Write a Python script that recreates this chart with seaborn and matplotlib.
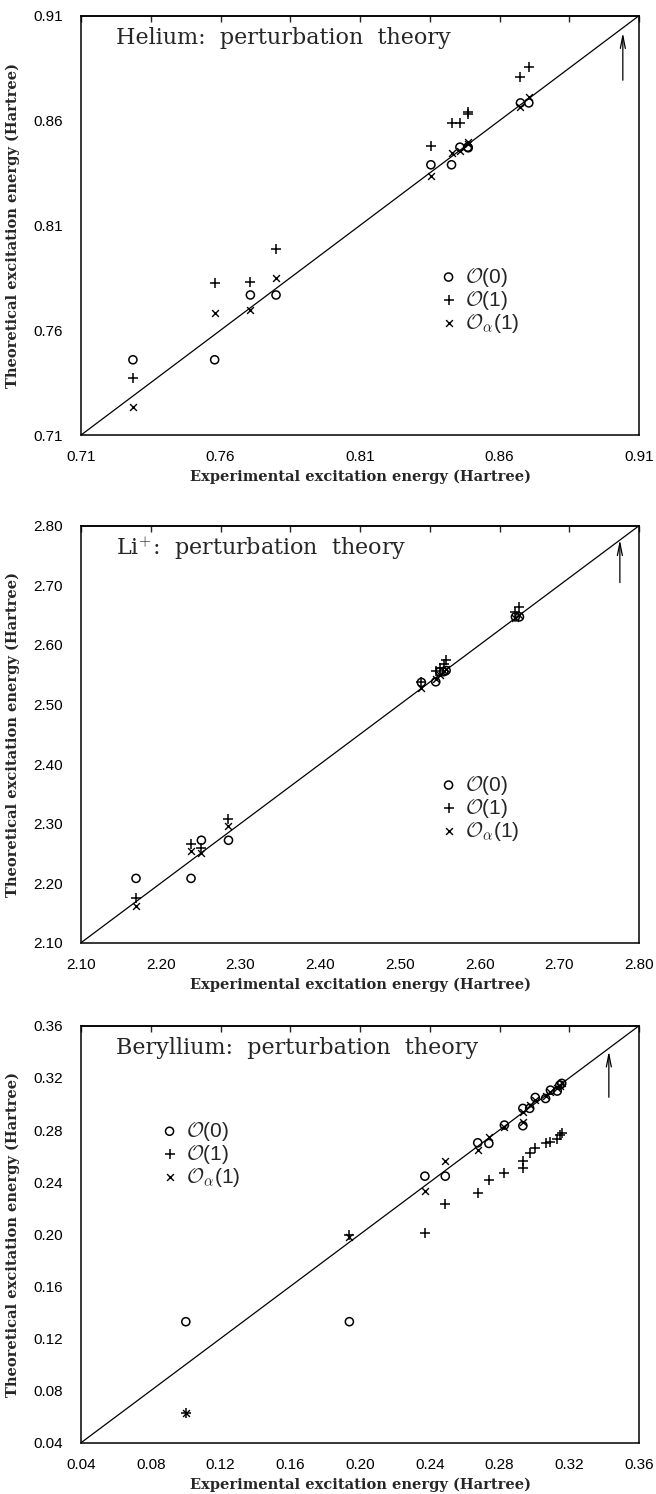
import matplotlib
matplotlib.use("Agg")
import matplotlib.pyplot as plt
import seaborn as sns

# Helium: experimental vs theoretical excitation energies (Hartree)
he_exp = [0.7286, 0.7579, 0.7707, 0.7799, 0.8354, 0.8428, 0.8458, 0.8486, 0.8488, 0.8675, 0.8705]
he_o0 = [0.7459, 0.7459, 0.7768, 0.7768, 0.8389, 0.8389, 0.8473, 0.8473, 0.8470, 0.8684, 0.8684]
he_o1 = [0.7373, 0.7825, 0.7830, 0.7986, 0.8479, 0.8590, 0.8590, 0.8629, 0.8641, 0.8808, 0.8854]
he_oa1 = [0.7232, 0.7684, 0.7695, 0.7848, 0.8335, 0.8446, 0.8454, 0.8497, 0.8486, 0.8663, 0.8711]
he_ticks = [0.71, 0.76, 0.81, 0.86, 0.91]
he_top = [0.71, 0.735, 0.76, 0.785, 0.81, 0.835, 0.86, 0.885, 0.91]

# Li+
li_exp = [2.169, 2.238, 2.251, 2.285, 2.527, 2.545, 2.550, 2.555, 2.558, 2.645, 2.650]
li_o0 = [2.208, 2.208, 2.272, 2.272, 2.537, 2.538, 2.555, 2.555, 2.557, 2.647, 2.647]
li_o1 = [2.175, 2.265, 2.259, 2.307, 2.538, 2.556, 2.562, 2.568, 2.575, 2.655, 2.664]
li_oa1 = [2.162, 2.254, 2.250, 2.296, 2.527, 2.543, 2.550, 2.556, 2.560, 2.645, 2.650]
li_ticks = [2.10, 2.20, 2.30, 2.40, 2.50, 2.60, 2.70, 2.80]
li_top = [2.10, 2.1875, 2.275, 2.3625, 2.45, 2.5375, 2.625, 2.7125, 2.80]

# Beryllium
be_exp = [0.1001, 0.1939, 0.2372, 0.2489, 0.2675, 0.2739, 0.2828, 0.2934, 0.2934, 0.2973,
          0.3005, 0.3064, 0.3092, 0.3131, 0.3146, 0.3157]
be_o0 = [0.1329, 0.1329, 0.2446, 0.2446, 0.2702, 0.2697, 0.2838, 0.2833, 0.2966, 0.2966,
         0.3050, 0.3042, 0.3106, 0.3099, 0.3145, 0.3158]
be_o1 = [0.0625, 0.1994, 0.2006, 0.2232, 0.2313, 0.2416, 0.2467, 0.2510, 0.2564, 0.2625,
         0.2664, 0.2697, 0.2705, 0.2733, 0.2761, 0.2779]
be_oa1 = [0.0625, 0.1981, 0.2334, 0.2561, 0.2646, 0.2748, 0.2825, 0.2863, 0.2940, 0.2991,
          0.3030, 0.3060, 0.3094, 0.3119, 0.3137, 0.3158]
be_ticks = [0.04, 0.08, 0.12, 0.16, 0.20, 0.24, 0.28, 0.32, 0.36]

sns.set_style("white")
plt.rcParams["mathtext.fontset"] = "cm"
plt.rcParams["font.family"] = ["Liberation Sans", "DejaVu Sans"]

labels = [r"$\mathcal{O}$(0)", r"$\mathcal{O}$(1)", r"$\mathcal{O}_{\alpha}$(1)"]


def panel(ax, exp, o0, o1, oa1, ticks, top, title, leg_xy, arrow):
    lo, hi = ticks[0], ticks[-1]
    ax.plot([lo, hi], [lo, hi], color="black", lw=0.9)
    sns.scatterplot(x=exp, y=o0, marker="o", s=34, facecolor="none", edgecolor="black",
                    linewidth=1.1, ax=ax, label=labels[0])
    sns.scatterplot(x=exp, y=o1, marker="+", s=44, color="black", linewidth=1.1,
                    ax=ax, label=labels[1])
    sns.scatterplot(x=exp, y=oa1, marker="x", s=24, color="black", linewidth=1.0,
                    ax=ax, label=labels[2])
    ax.annotate("", xy=(arrow[0], arrow[2]), xytext=(arrow[0], arrow[1]),
                arrowprops=dict(arrowstyle="->,head_length=0.9,head_width=0.18",
                                color="black", lw=0.9))
    ax.set_xlim(lo, hi)
    ax.set_ylim(lo, hi)
    ax.set_xticks(ticks)
    ax.set_yticks(ticks)
    ax.set_xticklabels(["%.2f" % t for t in ticks])
    ax.set_yticklabels(["%.2f" % t for t in ticks])
    ax.tick_params(direction="in", length=4, width=1, labelsize=11, colors="black")
    ax.tick_params(axis="y", pad=13)
    ax.tick_params(axis="x", pad=11)
    sec = ax.secondary_xaxis("top")
    sec.set_xticks(top)
    sec.tick_params(direction="in", length=4, width=1, labeltop=False)
    for sp in list(ax.spines.values()) + list(sec.spines.values()):
        sp.set_color("black")
        sp.set_linewidth(1.1)
    ax.set_xlabel("Experimental excitation energy (Hartree)", fontsize=10.5,
                  fontweight="bold", family="DejaVu Serif")
    ax.set_ylabel("Theoretical excitation energy (Hartree)", fontsize=10.5,
                  fontweight="bold", family="DejaVu Serif")
    ax.xaxis.set_label_coords(0.5, -0.083)
    ax.yaxis.set_label_coords(-0.109, 0.5)
    ax.text(0.063, 0.946, title, transform=ax.transAxes, fontsize=16,
            family="DejaVu Serif", va="center", ha="left")
    ax.legend(frameon=False, loc="center left", bbox_to_anchor=leg_xy, fontsize=15,
              handletextpad=0.3, labelspacing=0.0, handlelength=1.0, borderpad=0,
              borderaxespad=0)


fig = plt.figure(figsize=(6.56, 14.94), dpi=100)
ax1 = fig.add_axes([0.1235, 0.7088, 0.8506, 0.2807])
ax2 = fig.add_axes([0.1235, 0.3690, 0.8506, 0.2791])
ax3 = fig.add_axes([0.1235, 0.0343, 0.8506, 0.2791])

panel(ax1, he_exp, he_o0, he_o1, he_oa1, he_ticks, he_top,
      "Helium:  perturbation  theory", (0.64, 0.322), (0.9042, 0.8779, 0.9032))
panel(ax2, li_exp, li_o0, li_o1, li_oa1, li_ticks, li_top,
      r"Li$^{+}$:  perturbation  theory", (0.64, 0.323), (2.776, 2.70, 2.781))
panel(ax3, be_exp, be_o0, be_o1, be_oa1, be_ticks, be_ticks,
      "Beryllium:  perturbation  theory", (0.14, 0.692), (0.3427, 0.3030, 0.3426))

fig.savefig("out.png", dpi=100)
